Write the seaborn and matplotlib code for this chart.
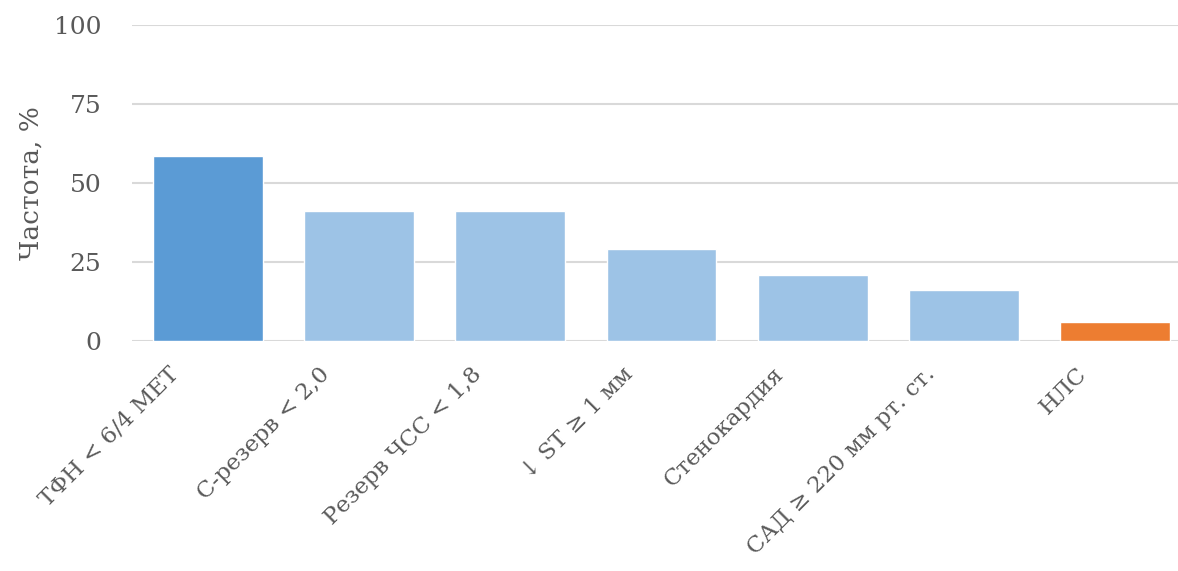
import matplotlib
matplotlib.use("Agg")
import matplotlib.pyplot as plt
import matplotlib.transforms as mtransforms
import seaborn as sns
import pandas as pd

categories = ["ТФН < 6/4 МЕТ", "С-резерв < 2,0", "Резерв ЧСС < 1,8", "↓ ST ≥ 1 мм",
              "Стенокардия", "САД ≥ 220 мм рт. ст.", "НЛС"]
values = [58.5, 41.0, 41.0, 29.0, 21.0, 16.0, 6.0]
colors = ["#5B9BD5", "#9DC3E6", "#9DC3E6", "#9DC3E6", "#9DC3E6", "#9DC3E6", "#ED7D31"]
yticks = [0, 25, 50, 75, 100]
ylabel = "Частота, %"

sns.set_theme(style="white")
plt.rcParams['font.family'] = ['DejaVu Serif', 'DejaVu Sans']

df = pd.DataFrame({"cat": categories, "val": values})

fig = plt.figure(figsize=(11.78, 5.71), dpi=100)
ax = fig.add_axes([132/1178, 1 - 341/571, 1 - 132/1178, (341 - 25)/571])

sns.barplot(data=df, x="cat", y="val", hue="cat", palette=colors, legend=False,
            width=0.727, ax=ax, saturation=1)

ax.set_ylim(0, 100)
ax.set_xlim(-0.5, 6.414)
ax.set_yticks(yticks)
ax.set_yticklabels([str(t) for t in yticks], fontsize=18, color="#595959")
ax.grid(axis="y", color="#D9D9D9", linewidth=1.5)
ax.set_axisbelow(True)
for s in ax.spines.values():
    s.set_visible(False)
ax.tick_params(axis="y", length=0, pad=22)
ax.tick_params(axis="x", length=0, pad=0)
ax.set_xlabel("")
ax.set_ylabel(ylabel, fontsize=19, color="#595959")
ax.yaxis.set_label_coords(-0.085, 0.5)

ax.set_xticks(range(len(categories)))
ax.set_xticklabels(categories, rotation=45, ha="right", va="top",
                   rotation_mode="anchor", fontsize=16.5, color="#595959")
offset = mtransforms.ScaledTranslation(-40/100, -22/100, fig.dpi_scale_trans)
for lab in ax.get_xticklabels():
    lab.set_transform(lab.get_transform() + offset)

fig.savefig("out.png", dpi=100)
